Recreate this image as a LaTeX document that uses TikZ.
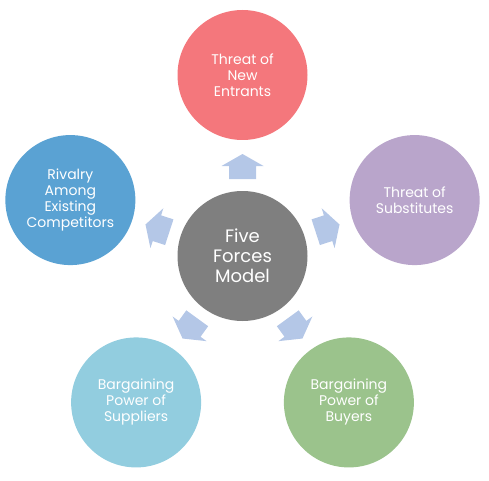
\documentclass[tikz,border=0pt]{standalone}
\usepackage{fontspec}
\setmainfont{Poppins}
\usetikzlibrary{calc}
\definecolor{cpink}{HTML}{F4777C}
\definecolor{clav}{HTML}{B9A5CB}
\definecolor{cblue}{HTML}{5AA2D3}
\definecolor{clight}{HTML}{92CDDF}
\definecolor{cgreen}{HTML}{9BC38C}
\definecolor{cgray}{HTML}{7F7F7F}
\definecolor{carrow}{HTML}{B4C7E7}
\begin{document}
\begin{tikzpicture}[x=1pt,y=1pt,
  force/.style={circle,minimum size=130pt,inner sep=0pt,text=white,align=center,
    font=\fontsize{14}{16}\selectfont},
  hub/.style={circle,minimum size=130pt,inner sep=0pt,fill=cgray,text=white,align=center,
    font=\fontsize{18}{20}\selectfont},
  blockarrow/.style={fill=carrow}]
\useasboundingbox (0,0) rectangle (489,480);
\coordinate (C) at (242.5,224);
\node[hub] (hub) at (C) {Five\\Forces\\Model};
\node[force,fill=cpink] (top) at ($(C)+(90:181)$) {Threat of\\New\\Entrants};
\node[force,fill=clav] (right) at ($(C)+(18:181)$) {Threat of\\Substitutes};
\node[force,fill=cgreen] (br) at ($(C)+(-54:181)$) {Bargaining\\Power of\\Buyers};
\node[force,fill=clight] (bl) at ($(C)+(-126:181)$) {Bargaining\\Power of\\Suppliers};
\node[force,fill=cblue] (left) at ($(C)+(162:181)$) {Rivalry\\Among\\Existing\\Competitors};
\foreach \a in {90,18,-54,-126,162}{
  \begin{scope}[shift={(hub.center)},rotate=\a-90]
    \fill[blockarrow] (-13.5,77) -- (13.5,77) -- (13.5,90) -- (21,90) -- (0,102)
      -- (-21,90) -- (-13.5,90) -- cycle;
  \end{scope}
}
\end{tikzpicture}
\end{document}
